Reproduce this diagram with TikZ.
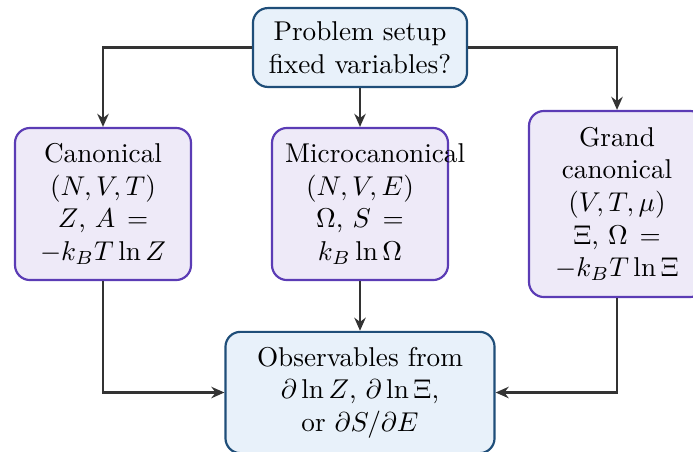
\documentclass[tikz,border=0pt]{standalone}
\usetikzlibrary{arrows.meta}
\definecolor{bluefill}{HTML}{E8F1FA}
\definecolor{blueline}{HTML}{1F4E79}
\definecolor{purpfill}{HTML}{EEEAF8}
\definecolor{purpline}{HTML}{5B3CB5}
\definecolor{arrcol}{HTML}{333333}
\begin{document}
\begin{tikzpicture}[x=0.3676pt,y=-0.3676pt,
  bluebox/.style={draw=blueline, fill=bluefill, line width=0.8pt, rounded corners=5.5pt, align=center, inner sep=0pt},
  purpbox/.style={draw=purpline, fill=purpfill, line width=0.8pt, rounded corners=5.5pt, align=center, text width=55pt, inner sep=0pt, minimum width=64.7pt, minimum height=55.9pt},
  conn/.style={draw=arrcol, line width=0.9pt, -{Stealth[length=4.8pt,width=4.2pt]}}]
\useasboundingbox (0,0) rectangle (693,451);
\clip (0,0) rectangle (693,451);
\node[bluebox, minimum width=78.7pt, minimum height=29pt] (top) at (360,47.5) {Problem setup\\fixed variables?};
\node[purpbox] (canon) at (103,204) {Canonical\\$(N,V,T)$\\$Z$, $A=-k_BT\ln Z$};
\node[purpbox] (micro) at (360,204) {Microcanonical\\$(N,V,E)$\\$\Omega$, $S=k_B\ln\Omega$};
\node[purpbox, minimum height=68.4pt] (grand) at (617,204) {Grand canonical\\$(V,T,\mu)$\\$\Xi$, $\Omega=-k_BT\ln\Xi$};
\node[bluebox, minimum width=98.9pt, minimum height=44.6pt] (obs) at (360,392.5) {Observables from\\$\partial\ln Z$, $\partial\ln\Xi$,\\or $\partial S/\partial E$};
\draw[conn] (top.west) -| (canon.north);
\draw[conn] (top.east) -| (grand.north);
\draw[conn] (top.south) -- (micro.north);
\draw[conn] (canon.south) |- (obs.west);
\draw[conn] (grand.south) |- (obs.east);
\draw[conn] (micro.south) -- (obs.north);
\end{tikzpicture}
\end{document}
